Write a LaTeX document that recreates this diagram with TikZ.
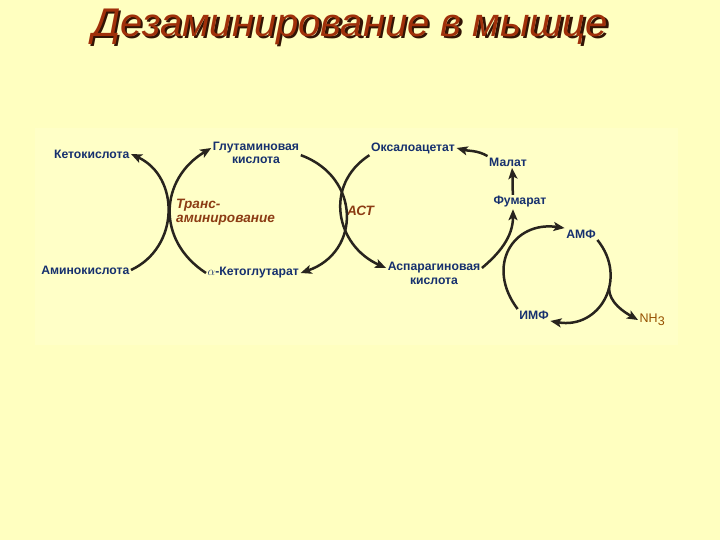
\documentclass[tikz,border=0pt]{standalone}
\usepackage{fontspec}
\setmainfont{Liberation Sans}
\usetikzlibrary{arrows.meta}
\definecolor{bg}{RGB}{255,255,192}
\definecolor{panel}{RGB}{255,255,199}
\definecolor{navy}{RGB}{22,48,110}
\definecolor{rust}{RGB}{140,60,20}
\definecolor{nhcol}{RGB}{150,80,0}
\definecolor{ink}{RGB}{40,36,30}
\definecolor{titlered}{RGB}{160,48,10}
\definecolor{shadowcol}{RGB}{50,20,5}
\newcommand{\ttltext}{Дезаминирование в мышце}
\begin{document}
\begin{tikzpicture}[x=1pt,y=1pt,
  lbl/.style={font=\bfseries\fontsize{12.2}{13}\selectfont, text=navy, inner sep=1.5pt},
  rlbl/.style={font=\bfseries\itshape\fontsize{13.6}{14}\selectfont, text=rust, inner sep=0pt, align=left},
  arr/.style={draw=ink, line width=2.5pt, -{Stealth[length=11pt,width=9pt,inset=2.5pt]}},
  titlefont/.style={font=\itshape\fontsize{40}{44}\selectfont}]
\fill[bg] (0,0) rectangle (720,-540);
\useasboundingbox (0,0) rectangle (720,-540);
\fill[panel] (35,-128) rectangle (678,-345);
% title with shadow
\node[titlefont, text=titlered, inner sep=0pt] (title) at (350,-28) {\rlap{\kern2.5pt\raisebox{-2.5pt}{\color{shadowcol}\ttltext}}\ttltext};
% labels
\node[lbl, anchor=east] (keto) at (131,-154) {Кетокислота};
\node[lbl, anchor=east] (amino) at (131,-270) {Аминокислота};
\node[lbl] (glu1) at (256,-148) {Глутаминовая};
\node[lbl] (glu2) at (256,-160) {кислота};
\node[lbl, anchor=west] (akg) at (206,-273) {{\mdseries$\alpha$}-Кетоглутарат};
\node[lbl] (oxa) at (413,-148) {Оксалоацетат};
\node[lbl] (mal) at (508,-162) {Малат};
\node[lbl] (fum) at (520,-202) {Фумарат};
\node[lbl] (asp1) at (434,-268) {Аспарагиновая};
\node[lbl] (asp2) at (434,-281) {кислота};
\node[lbl] (amf) at (581,-234) {АМФ};
\node[lbl] (imf) at (534,-315) {ИМФ};
\node[font=\fontsize{12.5}{13}\selectfont, text=nhcol, inner sep=1.5pt, anchor=west] (nh3) at (638,-320) {NH\raisebox{-3pt}{3}};
\node[rlbl, anchor=north west] (trans) at (176,-199) {Транс-\\аминирование};
\node[rlbl, anchor=west] (ast) at (347,-211) {АСТ};
% connectors
\draw[arr] (amino.east) .. controls +(25:54) and +(-25:54) .. (keto.east);
\draw[arr] (akg.west) .. controls +(147:60) and +(211:60) .. (glu1.west);
\draw[arr] (glu1.south east) .. controls +(-20:64) and +(19:64) .. (akg.east);
\draw[arr] (oxa.south west) .. controls +(213:55) and +(156:55) .. (asp1.west);
\draw[arr] (asp1.east) .. controls +(40:22) and +(-90:28) .. ([xshift=-7pt]fum.south);
\draw[arr] ([xshift=-7pt]fum.north) .. controls +(95:8) and +(-85:8) .. ([xshift=4pt]mal.south);
\draw[arr] (mal.north west) .. controls +(150:12) and +(-15:12) .. (oxa.east);
\draw[arr] (imf.north west) .. controls +(127:54) and +(172:52) .. (amf.north west);
\draw[arr] (amf.south east) .. controls +(-51:50) and +(-10:50) .. (imf.south east);
\coordinate (br) at (609,-288);
\draw[arr] (br) .. controls +(-90:15) and +(150:15) .. (nh3.west);
\end{tikzpicture}
\end{document}
